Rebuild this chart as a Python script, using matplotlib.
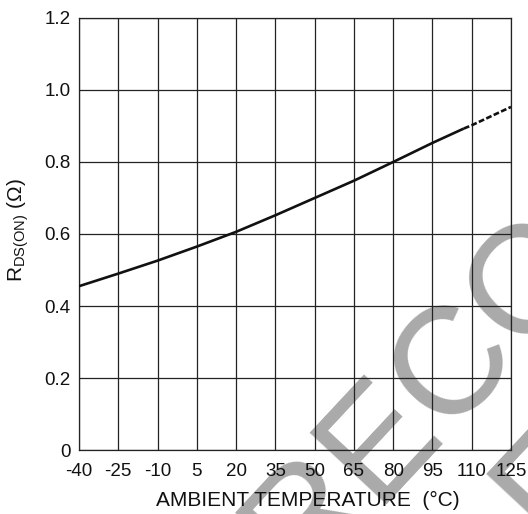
import matplotlib
matplotlib.use("Agg")
import matplotlib.pyplot as plt

# data
temp_solid = [-40, -25, -10, 5, 20, 35, 50, 65, 80, 95, 107]
rds_solid = [0.455, 0.49, 0.526, 0.565, 0.606, 0.652, 0.70, 0.748, 0.80, 0.853, 0.893]
temp_dashed = [107, 110, 125]
rds_dashed = [0.893, 0.902, 0.953]

x_ticks = [-40, -25, -10, 5, 20, 35, 50, 65, 80, 95, 110, 125]
y_ticks = [0, 0.2, 0.4, 0.6, 0.8, 1.0, 1.2]
y_tick_labels = ["0", "0.2", "0.4", "0.6", "0.8", "1.0", "1.2"]

plt.rcParams["font.family"] = ["Liberation Sans", "DejaVu Sans"]
plt.rcParams["mathtext.fontset"] = "custom"
plt.rcParams["mathtext.rm"] = "Liberation Sans"

fig = plt.figure(figsize=(5.28, 5.14), dpi=100)
ax = fig.add_axes([0.1496, 0.1245, 0.8182, 0.8405])
ax.patch.set_alpha(0)

grid_color = "#222222"
ax.plot(temp_solid, rds_solid, color="#111111", lw=1.9, solid_capstyle="butt", zorder=3)
ax.plot(temp_dashed, rds_dashed, color="#111111", lw=1.9, ls=(0, (2.2, 0.9)), zorder=3)

ax.set_xlim(-40, 125)
ax.set_ylim(0, 1.2)
ax.set_xticks(x_ticks)
ax.set_xticklabels([str(t) for t in x_ticks])
ax.set_yticks(y_ticks)
ax.set_yticklabels(y_tick_labels)
ax.grid(True, color=grid_color, lw=0.9)
ax.tick_params(length=0, labelsize=13.5, colors="#111111")
ax.tick_params(axis="x", pad=9)
ax.tick_params(axis="y", pad=6)
for spine in ax.spines.values():
    spine.set_color(grid_color)
    spine.set_linewidth(0.9)

ax.set_xlabel("AMBIENT TEMPERATURE  (°C)", fontsize=15, color="#111111")
ax.xaxis.set_label_coords(0.53, -0.095)
ax.set_ylabel(r"R$_{\mathregular{DS(ON)}}$ (Ω)", fontsize=15, color="#111111")
ax.yaxis.set_label_coords(-0.111, 0.509)

# watermark behind everything, two lines
wm = dict(fontsize=110, color="#aaaaaa", rotation=47, rotation_mode="anchor",
          ha="left", va="center", zorder=-5)
fig.text(0.513, -0.086, "RECOMMENDED", **wm)
fig.text(0.998, -0.027, "FOR NEW DESIGN", **wm)

fig.savefig("out.png", dpi=100)
